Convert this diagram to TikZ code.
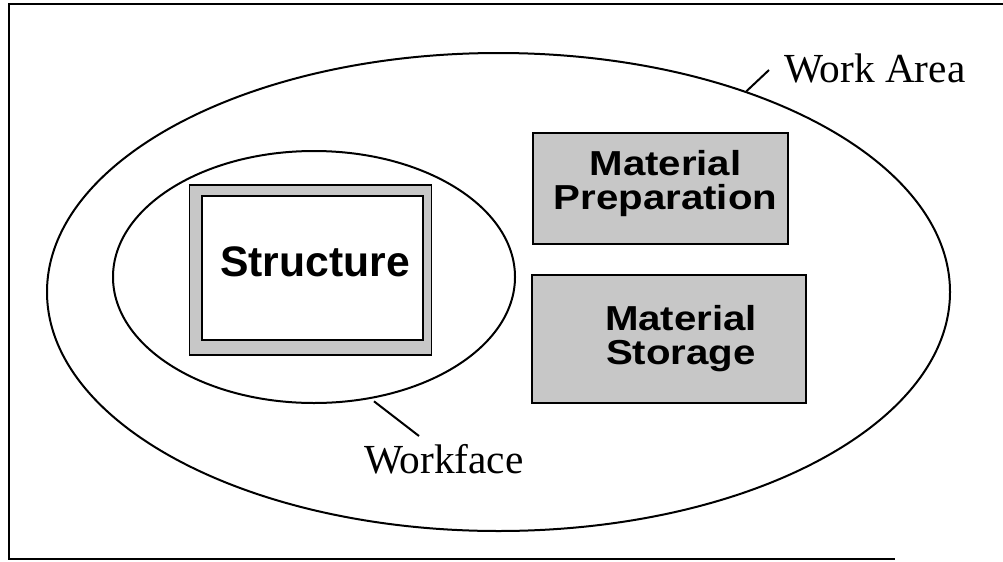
\documentclass[tikz,border=0pt]{standalone}
\usepackage{fontspec}
\usetikzlibrary{shapes.geometric}
\setmainfont{Liberation Serif}
\newfontfamily\plainsans{Liberation Sans}
\newfontfamily\widesans[FakeStretch=1.16]{Liberation Sans}
\definecolor{stipple}{gray}{0.78}

\tikzset{every picture/.style={line width=1.5pt}}
\tikzset{
  zone/.style={draw, ellipse, inner sep=0pt},
  graybox/.style={draw, fill=stipple, rectangle, inner sep=0pt, line width=1.2pt},
  whitebox/.style={draw, fill=white, rectangle, inner sep=0pt, line width=1.2pt},
  boxtext/.style={font=\widesans\bfseries\fontsize{26}{25}\selectfont, align=center, inner sep=0.75pt},
  tag/.style={font=\fontsize{31}{36}\selectfont, inner sep=0.75pt}
}

\begin{document}
\begin{tikzpicture}[x=0.75pt,y=0.75pt,yscale=-1,xscale=1]
\useasboundingbox (0,0) rectangle (1003,561);

%Frame
\draw [line width=1.8pt] (1003,4) -- (9,4) -- (9,559) -- (895,559) ;

%Shape: Ellipse [work area]
\node [zone, minimum width=677.25pt, minimum height=358.5pt] (area) at (498.5,292) {};
%Shape: Ellipse [workface]
\node [zone, minimum width=301.5pt, minimum height=189pt] (face) at (314,277) {};

%Shape: Rectangle [structure]
\node [graybox, minimum width=181.5pt, minimum height=127.5pt] (structout) at (310.5,270) {};
\node [whitebox, minimum width=165.75pt, minimum height=108pt] (structin) at (312.5,268) {};
%Shape: Rectangle [preparation]
\node [graybox, minimum width=191.25pt, minimum height=83.25pt] (prepbox) at (660.5,188.5) {};
%Shape: Rectangle [storage]
\node [graybox, minimum width=205.5pt, minimum height=96pt] (storebox) at (669,339) {};

% Text Node
\node [font=\plainsans\bfseries\fontsize{32}{38}\selectfont, inner sep=0.75pt] (structname) at (315,262) {Structure};
% Text Node
\node [boxtext] (prepname) at (665.5,183.5) {Material\\Preparation};
% Text Node
\node [boxtext] (storename) at (681,338.5) {Material\\Storage};

% Text Node
\node [tag, anchor=base west] (arealabel) at (782,82) {Work Area};
% Text Node
\node [tag, anchor=base west] (facelabel) at (362,473) {Workface};

%Straight Lines [leaders]
\coordinate (areatip) at (769,70);
\coordinate (facetip) at (419,436);
\draw (area.39) -- (areatip) ;
\draw [shorten <=3pt] (face.-65) -- (facetip) ;

\end{tikzpicture}
\end{document}
